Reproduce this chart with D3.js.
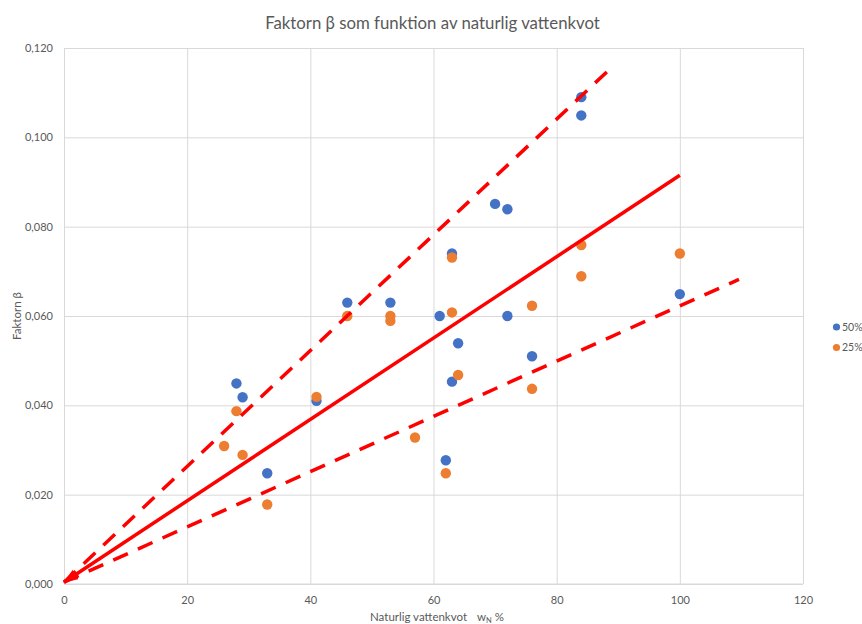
<!DOCTYPE html>
<html><head><meta charset="utf-8">
<script src="https://cdn.jsdelivr.net/npm/d3@7"></script>
<style>
body{margin:0;background:#fff;}
svg{display:block;font-family:Lato,"Open Sans",sans-serif;}
</style>
</head><body>
<svg id="c" width="862" height="624"></svg>
<script>
// ---- data ----
const chartTitle = "Faktorn β som funktion av naturlig vattenkvot";
const xAxisTitle = "Naturlig vattenkvot";
const yAxisTitle = "Faktorn β";
const seriesNames = ["50%", "25%"];
const seriesColors = ["#4472C4", "#ED7D31"];

const water50 = [28, 29, 33, 41, 46, 53, 61, 62, 63, 63, 64, 70, 72, 72, 76, 84, 84, 100];
const beta50  = [0.0449, 0.0418, 0.0248, 0.0410, 0.0630, 0.0630, 0.0600, 0.0277, 0.0740, 0.0453, 0.0539, 0.0851, 0.0839, 0.0600, 0.0510, 0.1090, 0.1049, 0.0649];

const water25 = [26, 28, 29, 33, 41, 46, 53, 53, 57, 62, 63, 63, 64, 76, 76, 84, 84, 100];
const beta25  = [0.0309, 0.0387, 0.0289, 0.0178, 0.0419, 0.0600, 0.0600, 0.0589, 0.0328, 0.0248, 0.0731, 0.0608, 0.0468, 0.0623, 0.0437, 0.0759, 0.0689, 0.0740];

// trend lines (drawn shapes)
const meanLineX  = [0, 100];
const meanLineY  = [0.0004, 0.0915];
const upperLineX = [0, 88.8];
const upperLineY = [0.0004, 0.1155];
const lowerLineX = [0, 109.6];
const lowerLineY = [0.0004, 0.0682];

const xTicks = [0, 20, 40, 60, 80, 100, 120];
const yTicks = [0, 0.02, 0.04, 0.06, 0.08, 0.10, 0.12];

// ---- drawing ----
(function () {
const svg = d3.select("#c");
const pL = 64, pR = 803, pT = 48, pB = 584;
const x = d3.scaleLinear().domain([0, 120]).range([pL, pR]);
const y = d3.scaleLinear().domain([0, 0.12]).range([pB, pT]);
const textCol = "#595959", gridCol = "#D9D9D9";
const fmt = v => d3.format(".3f")(v).replace(".", ",");

// grid + axes
const gx = svg.append("g").attr("transform", `translate(0,${pB})`)
  .call(d3.axisBottom(x).tickValues(xTicks).tickSize(-(pB - pT)).tickPadding(12).tickFormat(d3.format("d")));
const gy = svg.append("g").attr("transform", `translate(${pL},0)`)
  .call(d3.axisLeft(y).tickValues(yTicks).tickSize(-(pR - pL)).tickPadding(11).tickFormat(fmt));
[gx, gy].forEach(g => {
  g.select(".domain").remove();
  g.selectAll("line").attr("stroke", gridCol).attr("stroke-width", 1);
  g.selectAll("text").attr("fill", textCol).attr("font-size", "11px").attr("font-family", "Lato, 'Open Sans', sans-serif");
});
svg.append("line").attr("x1", pL).attr("x2", pR).attr("y1", pB).attr("y2", pB)
  .attr("stroke", gridCol).attr("stroke-width", 1);

// points
const pts50 = water50.map((w, i) => ({w, b: beta50[i]}));
const pts25 = water25.map((w, i) => ({w, b: beta25[i]}));
[pts50, pts25].forEach((pts, si) => {
  svg.append("g").selectAll("circle").data(pts).join("circle")
    .attr("cx", d => x(d.w)).attr("cy", d => y(d.b)).attr("r", 5.2)
    .attr("fill", seriesColors[si]);
});

// arrow marker
svg.append("defs").append("marker")
  .attr("id", "arrow").attr("markerUnits", "userSpaceOnUse")
  .attr("viewBox", "0 0 15 11").attr("markerWidth", 15).attr("markerHeight", 11)
  .attr("refX", 14).attr("refY", 5.5).attr("orient", "auto-start-reverse")
  .append("path").attr("d", "M0,0 L15,5.5 L0,11 Z").attr("fill", "#FF0000");

// lines
const lineGen = d3.line().x(d => x(d[0])).y(d => y(d[1]));
const mk = (xs, ys) => xs.map((v, i) => [v, ys[i]]);
svg.append("path").datum(mk(upperLineX, upperLineY)).attr("d", lineGen)
  .attr("fill", "none").attr("stroke", "#FF0000").attr("stroke-width", 3.5).attr("stroke-dasharray", "16,11");
svg.append("path").datum(mk(lowerLineX, lowerLineY)).attr("d", lineGen)
  .attr("fill", "none").attr("stroke", "#FF0000").attr("stroke-width", 3.5).attr("stroke-dasharray", "16,11");
svg.append("path").datum(mk(meanLineX, meanLineY)).attr("d", lineGen)
  .attr("fill", "none").attr("stroke", "#FF0000").attr("stroke-width", 3.5)
  .attr("marker-start", "url(#arrow)");

// title
const t = svg.append("text").attr("x", 432.5).attr("y", 29).attr("text-anchor", "middle")
  .attr("fill", textCol).attr("font-size", "18px").text(chartTitle);
const tw = t.node().getComputedTextLength();
t.attr("font-size", (18 * 335 / tw).toFixed(2) + "px");

// y axis title
svg.append("text").attr("transform", "rotate(-90)").attr("x", -316).attr("y", 21)
  .attr("text-anchor", "middle").attr("fill", textCol).attr("font-size", "11.5px").text(yAxisTitle);

// x axis title
const xt = svg.append("text").attr("x", 437).attr("y", 621).attr("text-anchor", "middle")
  .attr("fill", textCol).attr("font-size", "11.5px");
xt.append("tspan").text(xAxisTitle);
xt.append("tspan").attr("dx", 10).text("w");
xt.append("tspan").attr("font-size", "7.5px").attr("dy", 2).text("N");
xt.append("tspan").attr("dy", -2).text(" %");

// legend
seriesNames.forEach((n, i) => {
  const ly = 327 + i * 20.5;
  svg.append("circle").attr("cx", 836.5).attr("cy", ly).attr("r", 3.6).attr("fill", seriesColors[i]);
  svg.append("text").attr("x", 842).attr("y", ly).attr("dy", "0.35em")
    .attr("fill", textCol).attr("font-size", "10.5px").text(n);
});
})();
</script>
</body></html>
